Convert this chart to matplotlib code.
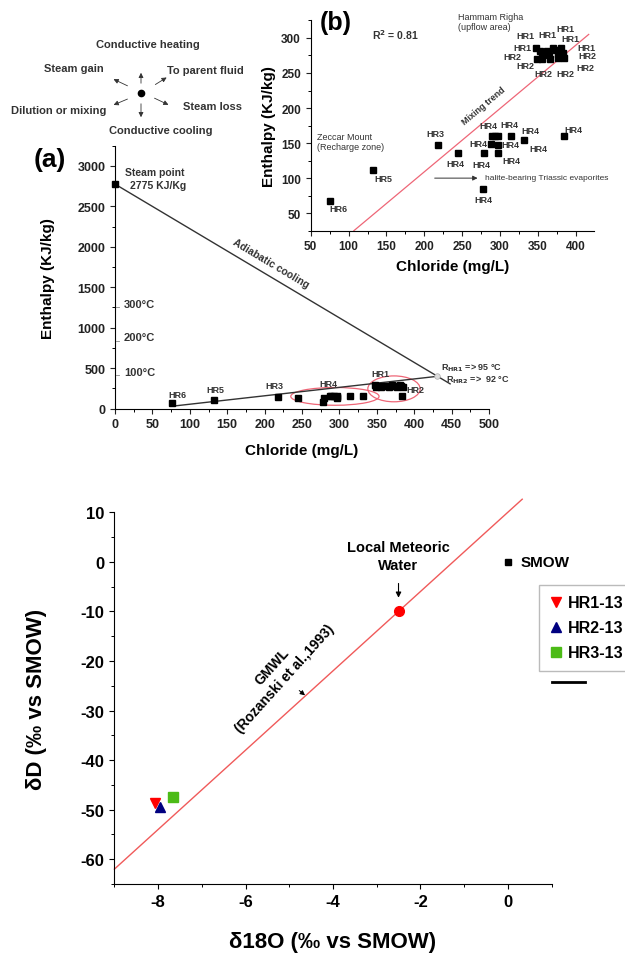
import matplotlib
matplotlib.use("Agg")
import matplotlib.pyplot as plt
from matplotlib.patches import Ellipse
from matplotlib.lines import Line2D
from matplotlib.ticker import MultipleLocator

plt.rcParams['font.family'] = ['Liberation Sans', 'DejaVu Sans']
plt.rcParams['font.weight'] = 'bold'
plt.rcParams['axes.labelweight'] = 'bold'
plt.rcParams['axes.unicode_minus'] = False

# chloride (mg/L) / enthalpy (kJ/kg) of the springs, shared by panels (a) and (b)
hr6_cl, hr6_h = [76], [67]
hr5_cl, hr5_h = [132], [111]
hr3_cl, hr3_h = [218], [147]
hr4_cl = [244, 279, 297, 288, 297, 289, 293, 297, 314, 331, 384, 278]
hr4_h = [136, 136, 136, 149, 147, 160, 160, 160, 160, 155, 160, 84]
hr12_cl = [348, 353, 355, 349, 356, 362, 365, 366, 370, 374, 376, 377, 381, 383, 385]
hr12_h = [286, 281, 275, 270, 270, 282, 276, 270, 286, 283, 277, 271, 285, 279, 272]

steam_point = (0, 2775)
reservoir = (431, 398)          # R_HR1 / R_HR2 intersection
adiabatic_end = (448, 305)
mixing_start = (78, 30)

mix_trend_cl = [107, 417]       # red regression line of panel (b)
mix_trend_h = [25, 305]

temp_marks = [415, 840, 1250]
temp_labels = ['100°C', '200°C', '300°C']

# labels of panel (a) and (b): (text, chloride, enthalpy)
a_labels = [('HR6', 83, 177), ('HR5', 134, 239), ('HR3', 213, 280),
            ('HR4', 285, 313), ('HR1', 355, 432), ('HR2', 402, 230)]
b_labels = [('HR6', 86.5, 56.7), ('HR5', 146, 100), ('HR3', 214, 163),
            ('HR4', 240.6, 121), ('HR4', 275, 120), ('HR4', 271, 150),
            ('HR4', 284.6, 174.7), ('HR4', 312, 177), ('HR4', 314, 148.6),
            ('HR4', 339.7, 168.6), ('HR4', 350.7, 142.4), ('HR4', 315.5, 124.7),
            ('HR4', 397, 170), ('HR4', 278, 70),
            ('HR1', 334, 303), ('HR1', 362, 305), ('HR1', 386, 313),
            ('HR1', 393.5, 298.6), ('HR1', 329, 287), ('HR1', 414.6, 286.7),
            ('HR2', 316, 273), ('HR2', 334, 260), ('HR2', 357, 249.6),
            ('HR2', 386, 249.6), ('HR2', 414.6, 274.7), ('HR2', 412, 258)]

# isotopes
gmwl_x = [-9.0, 0.33]
gmwl_slope, gmwl_intercept = 8, 10
local_meteoric = (-2.5, -10)
smow = (0, 0)
hr1_13 = (-8.06, -48.7)
hr2_13 = (-7.95, -49.5)
hr3_13 = (-7.65, -47.35)

W, H = 625, 954
fig = plt.figure(figsize=(W / 100, H / 100), dpi=100)


def px_axes(left, top, right, bottom):
    return fig.add_axes([left / W, 1 - bottom / H, (right - left) / W, (bottom - top) / H])


def style_axes(ax, size):
    for s in ['top', 'right']:
        ax.spines[s].set_visible(False)
    ax.tick_params(which='major', direction='out', length=3.5, width=0.8, labelsize=size, colors='#222222')
    ax.tick_params(which='minor', direction='out', length=2, width=0.7)


grey = '#333333'

# ---------- schematic of processes ----------
axd = px_axes(0, 30, 260, 140)
axd.set_xlim(0, 260)
axd.set_ylim(140, 30)
axd.axis('off')
cx, cy = 141, 94
axd.plot(cx, cy, 'o', color='black', ms=4.5)
arrows = [((141, 87), (141, 71)), ((141, 102), (141, 121)), ((130, 88), (111, 79)),
          ((153, 87), (169, 77)), ((130, 99), (111, 107)), ((152, 98), (171, 107))]
for (x0, y0), (x1, y1) in arrows:
    axd.annotate('', xy=(x1, y1), xytext=(x0, y0),
                 arrowprops=dict(arrowstyle='-|>', color=grey, lw=0.6, mutation_scale=7))
fs = 8
axd.text(148, 45, 'Conductive heating', ha='center', va='center', fontsize=fs, color=grey)
axd.text(74, 69, 'Steam gain', ha='center', va='center', fontsize=fs, color=grey)
axd.text(167, 71, 'To parent fluid', ha='left', va='center', fontsize=fs, color=grey)
axd.text(59, 111, 'Dilution or mixing', ha='center', va='center', fontsize=fs, color=grey)
axd.text(183, 107, 'Steam loss', ha='left', va='center', fontsize=fs, color=grey)
axd.text(161, 131, 'Conductive cooling', ha='center', va='center', fontsize=fs, color=grey)

# ---------- panel (a) ----------
axa = px_axes(115, 146.7, 489, 409.5)
style_axes(axa, 9)
axa.set_xlim(0, 500)
axa.set_ylim(0, 3250)
axa.xaxis.set_major_locator(MultipleLocator(50))
axa.xaxis.set_minor_locator(MultipleLocator(25))
axa.yaxis.set_major_locator(MultipleLocator(500))
axa.yaxis.set_minor_locator(MultipleLocator(250))

axa.plot([steam_point[0], adiabatic_end[0]], [steam_point[1], adiabatic_end[1]], color=grey, lw=1)
axa.plot([mixing_start[0], reservoir[0]], [mixing_start[1], reservoir[1]], color=grey, lw=1)
axa.plot(*reservoir, 'o', ms=4, mfc='#dddddd', mec='#aaaaaa', mew=0.5)
axa.plot(*steam_point, 's', color='black', ms=4.5, clip_on=False)
for xs, ys in [(hr6_cl, hr6_h), (hr5_cl, hr5_h), (hr3_cl, hr3_h), (hr4_cl, hr4_h), (hr12_cl, hr12_h)]:
    axa.plot(xs, ys, 's', color='black', ms=4.5, lw=0)
axa.add_patch(Ellipse((294, 150), 118, 220, fill=False, ec='#ee6677', lw=0.9))
axa.add_patch(Ellipse((373, 243), 70, 320, fill=False, ec='#ee6677', lw=0.9))
for t, x, y in a_labels:
    axa.text(x, y, t, ha='center', va='center', fontsize=6.5, color=grey)
for m, t in zip(temp_marks, temp_labels):
    axa.plot([1, 6], [m, m], color='#888888', lw=0.6)
    axa.text(12, m + 40, t, ha='left', va='center', fontsize=8, color=grey)
axa.text(14, 2930, 'Steam point', ha='left', va='center', fontsize=7.5, color=grey)
axa.text(20, 2760, '2775 KJ/Kg', ha='left', va='center', fontsize=7.5, color=grey)
axa.text(208, 1805, 'Adiabatic cooling', ha='center', va='center', rotation=-30.8,
         fontsize=7.5, color=grey)
axa.text(436, 510, r'R$_{\rm HR1}$ => 95 °C', ha='left', va='center', fontsize=6.5, color=grey)
axa.text(443, 365, r'R$_{\rm HR2}$ =>  92 °C', ha='left', va='center', fontsize=6.5, color=grey)
axa.set_xlabel('Chloride (mg/L)', fontsize=11, labelpad=9)
axa.set_ylabel('Enthalpy (KJ/kg)', fontsize=11, labelpad=16)
fig.text(50 / W, 1 - 160 / H, '(a)', fontsize=19, ha='center', va='center')

# ---------- panel (b) ----------
axb = px_axes(310.7, 20.7, 594, 231.7)
axb.patch.set_alpha(0)
style_axes(axb, 8.5)
axb.set_xlim(50, 424)
axb.set_ylim(25, 326)
axb.xaxis.set_major_locator(MultipleLocator(50))
axb.xaxis.set_minor_locator(MultipleLocator(25))
axb.yaxis.set_major_locator(MultipleLocator(50))
axb.yaxis.set_minor_locator(MultipleLocator(25))
axb.plot(mix_trend_cl, mix_trend_h, color='#ee6677', lw=0.9)
for xs, ys in [(hr6_cl, hr6_h), (hr5_cl, hr5_h), (hr3_cl, hr3_h), (hr4_cl, hr4_h), (hr12_cl, hr12_h)]:
    axb.plot(xs, ys, 's', color='black', ms=3.8, lw=0)
for t, x, y in b_labels:
    axb.text(x, y, t, ha='center', va='center', fontsize=6.5, color=grey)
axb.text(131, 306, r'R$^{2}$ = 0.81', ha='left', va='center', fontsize=7.5, color=grey)
axb.text(245, 331, 'Hammam Righa', ha='left', va='center', fontsize=6.5, fontweight='normal', color=grey)
axb.text(245, 316, '(upflow area)', ha='left', va='center', fontsize=6.5, fontweight='normal', color=grey)
axb.text(58, 160, 'Zeccar Mount', ha='left', va='center', fontsize=6.5, fontweight='normal', color=grey)
axb.text(58, 145, '(Recharge zone)', ha='left', va='center', fontsize=6.5, fontweight='normal', color=grey)
axb.text(278, 204, 'Mixing trend', ha='center', va='center', rotation=40, fontsize=6.5, color=grey)
axb.annotate('', xy=(274, 100), xytext=(210, 100),
             arrowprops=dict(arrowstyle='-|>', color=grey, lw=0.7, mutation_scale=7))
axb.text(280, 101, 'halite-bearing Triassic evaporites', ha='left', va='center', fontsize=6,
         fontweight='normal', color=grey)
axb.set_xlabel('Chloride (mg/L)', fontsize=11, labelpad=5)
axb.set_ylabel('Enthalpy (KJ/kg)', fontsize=11, labelpad=4)
fig.text(336 / W, 1 - 23 / H, '(b)', fontsize=18, ha='center', va='center')

# ---------- isotopes ----------
axc = px_axes(114.4, 513.3, 551.5, 885)
style_axes(axc, 12)
axc.tick_params(which='major', colors='black')
axc.set_xlim(-9, 1)
axc.set_ylim(-65, 10)
axc.xaxis.set_major_locator(MultipleLocator(2))
axc.xaxis.set_minor_locator(MultipleLocator(1))
axc.yaxis.set_major_locator(MultipleLocator(10))
axc.yaxis.set_minor_locator(MultipleLocator(5))
axc.plot(gmwl_x, [gmwl_slope * x + gmwl_intercept for x in gmwl_x], color='#f05a5a', lw=1, clip_on=False)
axc.plot(*local_meteoric, 'o', color='red', ms=7)
axc.plot(*smow, 's', color='black', ms=4.5)
axc.text(smow[0] + 0.3, smow[1], 'SMOW', ha='left', va='center', fontsize=11)
h1, = axc.plot(*hr1_13, 'v', color='red', ms=6.5, lw=0, label='HR1-13')
h2, = axc.plot(*hr2_13, '^', color='#000080', ms=6.5, lw=0, label='HR2-13')
h3, = axc.plot(*hr3_13, 's', color='#4cbb17', ms=6.5, lw=0, label='HR3-13')
axc.legend(handles=[h1, h2, h3], loc='upper left', bbox_to_anchor=(539 / W, 1 - 586 / H),
           bbox_transform=fig.transFigure, prop={'size': 11.5, 'weight': 'bold'}, frameon=True,
           fancybox=False, edgecolor='#bbbbbb', framealpha=1, borderpad=0.65, borderaxespad=0,
           handlelength=0.8, handletextpad=0.35, labelspacing=0.62)
fig.add_artist(Line2D([551.7 / W, 585 / W], [1 - 683 / H] * 2, color='black', lw=2))

axc.text(local_meteoric[0], 3.0, 'Local Meteoric', ha='center', va='center', fontsize=10.5)
axc.text(local_meteoric[0], -0.7, 'Water', ha='center', va='center', fontsize=10.5)
axc.annotate('', xy=(local_meteoric[0], -7.8), xytext=(local_meteoric[0], -3.8),
             arrowprops=dict(arrowstyle='-|>', color='black', lw=0.8, mutation_scale=8))
axc.text(-5.39, -21.0, 'GMWL', ha='center', va='center', rotation=48, fontsize=10)
axc.text(-5.1, -23.4, '(Rozanski et al.,1993)', ha='center', va='center', rotation=48, fontsize=10)
axc.annotate('', xy=(-4.59, -27.3), xytext=(-4.82, -25.6),
             arrowprops=dict(arrowstyle='-|>', color='black', lw=0.7, mutation_scale=7))
axc.set_xlabel('δ18O (‰ vs SMOW)', fontsize=16, labelpad=16)
axc.set_ylabel('δD (‰ vs SMOW)', fontsize=16, labelpad=24)

fig.savefig('out.png', dpi=100)
